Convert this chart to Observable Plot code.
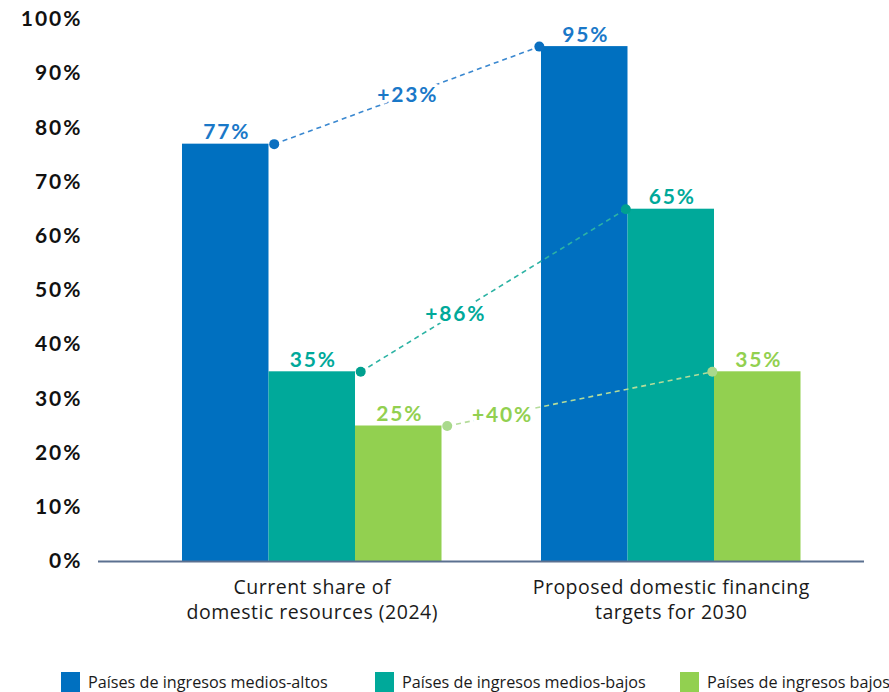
<!DOCTYPE html>
<html><head><meta charset="utf-8">
<script src="https://cdn.jsdelivr.net/npm/d3@7"></script>
<script src="https://cdn.jsdelivr.net/npm/@observablehq/plot@0.6"></script>
<style>
body{margin:0;background:#fff;width:889px;height:692px;overflow:hidden;position:relative;font-family:Lato,sans-serif}
#chart{position:absolute;left:0;top:0}
#legend{position:absolute;left:0;top:672px;width:889px;height:20px}
.item{position:absolute;top:0;height:20px;display:flex;align-items:center;font-family:"Open Sans",sans-serif;font-size:16.2px;color:#1a1a1a;white-space:nowrap}
.sw{width:19px;height:20px;margin-right:8px;flex:none}
.yax text{font-weight:700;letter-spacing:2px}
.val text, .chg text{font-weight:700;letter-spacing:1.8px}
.cat text{letter-spacing:0.5px;font-weight:500}
</style></head><body>
<div id="chart"></div><div id="legend"></div>
<script>
const groups = ["Current share of\ndomestic resources (2024)", "Proposed domestic financing\ntargets for 2030"];
const series = ["Países de ingresos medios-altos", "Países de ingresos medios-bajos", "Países de ingresos bajos"];
const current = [77, 35, 25];
const target = [95, 65, 35];
const changes = ["+23%", "+86%", "+40%"];
const yTicks = [0, 10, 20, 30, 40, 50, 60, 70, 80, 90, 100];

const barColors = ["#0070c0", "#00a99a", "#92d050"];
const dotColors = ["#0a6fc0", "#00a08f", "#a9d98c"];
const lineColors = ["#3a88d0", "#2db3a4", "#b4dc9a"];
const labelColors = ["#1a78c8", "#00a99a", "#92d050"];

// layout (in bar-width units)
const STRIDE = 4.15;
const labelT = [0.5, 0.355, 0.205];

const bars = [];
[current, target].forEach((vals, g) => vals.forEach((v, i) => bars.push({g, i, value: v, x1: g * STRIDE + i, x2: g * STRIDE + i + 1})));

const links = series.map((s, i) => ({i, x1: i + 1 + 0.06, y1: current[i], x2: STRIDE + i - 0.025, y2: target[i]}));
const chg = links.map(l => ({i: l.i, text: changes[l.i], x: l.x1 + labelT[l.i] * (l.x2 - l.x1), y: l.y1 + labelT[l.i] * (l.y2 - l.y1)}));

const marks = [
  Plot.rectY(bars, {x1: "x1", x2: "x2", y1: 0, y2: "value", fill: d => series[d.i]}),
  Plot.ruleY([0], {stroke: "#5b7090", strokeWidth: 2}),
];
series.forEach((s, i) => {
  const L = links.filter(d => d.i === i);
  marks.push(Plot.link(L, {x1: "x1", y1: "y1", x2: "x2", y2: "y2", stroke: lineColors[i], strokeWidth: 1.6, strokeDasharray: "5,4"}));
  marks.push(Plot.dot(L, {x: "x1", y: "y1", r: 5, fill: dotColors[i]}));
  marks.push(Plot.dot(L, {x: "x2", y: "y2", r: 5, fill: dotColors[i]}));
  marks.push(Plot.text(chg.filter(d => d.i === i), {x: "x", y: "y", text: "text", fill: labelColors[i], stroke: "white", strokeWidth: 7, fontSize: 21, dx: 1, className: "chg"}));
  marks.push(Plot.text(bars.filter(d => d.i === i), {x: d => d.x1 + 0.5, y: "value", text: d => d.value + "%", fill: labelColors[i], lineAnchor: "bottom", dy: -5, dx: 1, fontSize: 21, className: "val"}));
});
marks.push(Plot.text(groups, {x: (d, j) => j * STRIDE + 1.5, y: () => 0, text: d => d, lineAnchor: "top", dy: 15, fontSize: 19.5, lineHeight: 1.28, fill: "#1a1a1a", fontFamily: "Open Sans, sans-serif", className: "cat"}));
marks.push(Plot.axisY({ticks: yTicks, tickSize: 0, tickPadding: 16, tickFormat: d => d + "%", fontSize: 21, fill: "#111", className: "yax"}));

const chart = Plot.plot({
  width: 889, height: 650,
  marginLeft: 98, marginRight: 25, marginTop: 19, marginBottom: 89,
  style: {fontFamily: "Lato, sans-serif", background: "white", overflow: "visible"},
  x: {domain: [-0.971, 7.884], axis: null},
  y: {domain: [0, 100], axis: null},
  color: {domain: series, range: barColors},
  marks
});
document.getElementById("chart").appendChild(chart);

const legendX = [61, 375, 680];
const lg = document.getElementById("legend");
series.forEach((s, i) => {
  const it = document.createElement("div");
  it.className = "item";
  it.style.left = legendX[i] + "px";
  it.innerHTML = `<span class="sw" style="background:${barColors[i]}"></span><span>${s}</span>`;
  lg.appendChild(it);
});
</script>
</body></html>
